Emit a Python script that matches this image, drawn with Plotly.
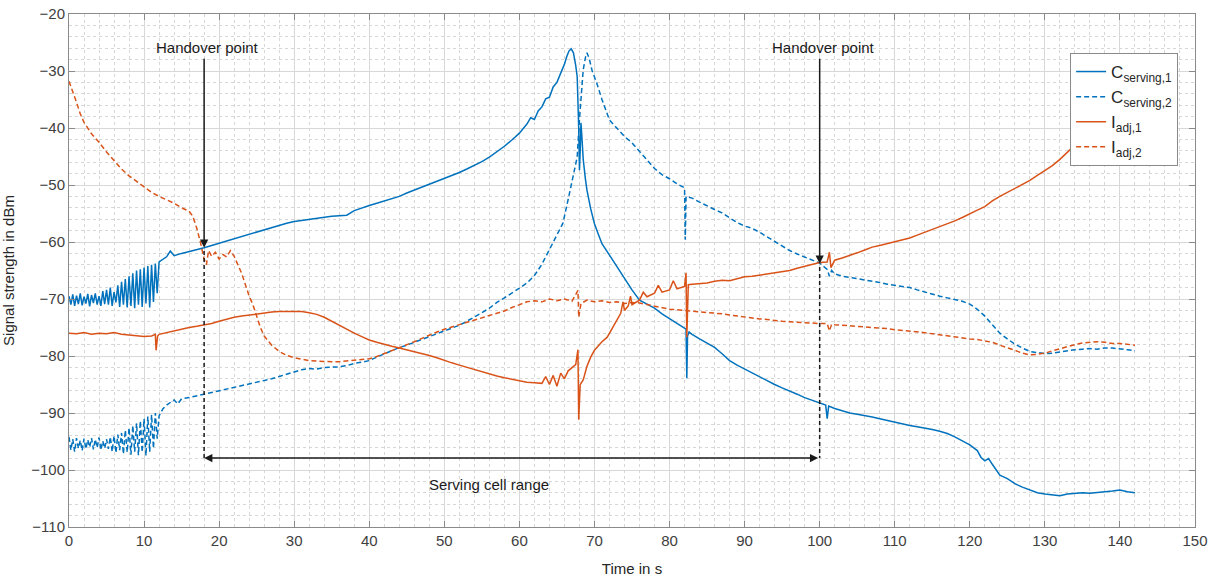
import plotly.graph_objects as go

# ---------------- data ----------------
# C_serving,1 (solid blue)
t_c1 = [0, 0.25, 0.5, 0.75, 1.0, 1.25, 1.5, 1.75, 2.0, 2.25, 2.5, 2.75, 3.0, 3.25, 3.5, 3.75,
        4.0, 4.25, 4.5, 4.75, 5.0, 5.25, 5.5, 5.75, 6.0, 6.25, 6.5, 6.75, 7.0, 7.25, 7.5, 7.75,
        8.0, 8.25, 8.5, 8.75, 9.0, 9.25, 9.5, 9.75, 10.0, 10.25, 10.5, 10.75, 11.0, 11.25, 11.5, 11.75,
        12.0, 12.5, 13, 13.5, 14, 15, 16, 17, 18, 19, 20, 21, 22, 23, 24, 25, 26, 27, 28, 29, 30,
        31, 32, 33, 34, 35, 36, 37, 38, 39, 40, 41, 42, 43, 44, 45, 46, 47, 48, 49, 50,
        51, 52, 53, 54, 55, 56, 57, 58, 59, 60, 61, 61.5, 62, 62.5, 63, 63.5, 64, 64.5, 65, 65.5,
        66, 66.3, 66.6, 66.9, 67.2, 67.5, 67.7, 67.9, 68.0, 68.1, 68.2, 68.3, 68.5, 68.8, 69, 69.5,
        70, 70.5, 71, 72, 73, 74, 75, 76, 77, 78, 79, 80, 81, 82, 82.2, 82.3, 82.4, 82.6, 83,
        84, 85, 86, 87, 88, 89, 90, 91, 92, 93, 94, 95, 96, 97, 98, 99, 100, 100.8, 101, 101.2,
        102, 103, 104, 105, 106, 107, 108, 109, 110, 111, 112, 113, 114, 115, 116, 117, 118, 119,
        120, 121, 121.5, 122, 122.5, 123, 124, 125, 126, 127, 128, 129, 130, 131, 132, 133, 134,
        135, 136, 137, 138, 139, 140, 141, 142]
v_c1 = [-69.5, -71.0, -69.2, -71.2, -69.4, -70.9, -69.0, -71.1, -69.6, -70.8, -69.1, -71.3, -69.3, -70.7, -69.0, -71.0,
        -69.5, -71.2, -68.6, -70.9, -68.4, -71.0, -68.0, -71.2, -68.8, -70.6, -67.6, -71.4, -67.0, -71.0, -66.5, -71.5,
        -66.0, -71.2, -65.5, -71.6, -65.0, -71.0, -64.8, -71.4, -64.5, -70.8, -64.2, -71.5, -64.0, -70.5, -63.8, -69.0,
        -63.5, -63.0, -62.6, -61.6, -62.4, -62.0, -61.7, -61.3, -61.0, -60.6, -60.2, -59.8, -59.5, -59.0, -58.6, -58.2,
        -57.8, -57.4, -57.0, -56.7, -56.4, -56.2, -56.0, -55.8, -55.7, -55.5, -55.4, -55.3, -54.5, -54.0, -53.6, -53.2,
        -52.8, -52.5, -52.0, -51.4, -50.9, -50.4, -49.9, -49.4, -48.9, -48.4, -47.8, -47.2, -46.6, -45.9, -45.1, -44.2,
        -43.2, -42.1, -40.9, -39.3, -38.2, -38.5, -37.0, -36.3, -34.9, -34.6, -32.8, -32.0, -30.4, -28.8, -27.5, -26.5,
        -26.1, -26.8, -29.0, -31.0, -40.0, -47.4, -44.0, -39.1, -41.0, -45.5, -49.0, -50.9, -54.2, -56.8, -58.6, -60.3,
        -62.3, -64.4, -66.5, -68.4, -70.2, -70.9, -71.6, -72.6, -73.4, -74.3, -75.0, -75.3, -83.9, -76.5, -75.8, -76.2,
        -77.0, -77.7, -78.5, -79.6, -80.8, -81.6, -82.3, -83.0, -83.6, -84.3, -85.0, -85.6, -86.1, -86.7, -87.3, -87.8,
        -88.3, -88.6, -91.0, -88.8, -89.2, -89.6, -90.0, -90.2, -90.4, -90.7, -91.0, -91.3, -91.7, -91.9, -92.2, -92.4,
        -92.6, -92.9, -93.2, -93.6, -94.2, -94.9, -95.6, -96.6, -97.8, -98.4, -98.0, -99.0, -100.9, -101.5, -102.4, -103.0,
        -103.5, -104.0, -104.2, -104.4, -104.5, -104.2, -104.1, -104.0, -104.1, -103.9, -103.8, -103.7, -103.5, -103.8, -104.0]

# C_serving,2 (dashed blue)
t_c2 = [0, 0.25, 0.5, 0.75, 1.0, 1.25, 1.5, 1.75, 2.0, 2.25, 2.5, 2.75, 3.0, 3.25, 3.5, 3.75,
        4.0, 4.25, 4.5, 4.75, 5.0, 5.25, 5.5, 5.75, 6.0, 6.25, 6.5, 6.75, 7.0, 7.25, 7.5, 7.75,
        8.0, 8.25, 8.5, 8.75, 9.0, 9.25, 9.5, 9.75, 10.0, 10.25, 10.5, 10.75, 11.0, 11.25, 11.5, 11.75,
        12.0, 12.5, 13, 13.5, 14, 14.5, 15, 16, 17, 18, 19, 20, 21, 22, 23, 24, 25, 26, 27, 28, 29,
        30, 31, 32, 33, 34, 35, 36, 37, 38, 39, 40, 41, 42, 43, 44, 45, 46, 47, 48, 49, 50,
        51, 52, 53, 54, 55, 56, 57, 58, 59, 60, 61, 62, 63, 64, 65, 65.8, 66.5, 67, 67.5, 67.7,
        68, 68.3, 68.5, 68.8, 69, 69.3, 69.7, 70.3, 71, 72, 73, 74, 75, 76, 77, 78, 79, 80, 81,
        82, 82.1, 82.2, 83, 84, 85, 86, 87, 88, 89, 90, 91, 92, 93, 94, 95, 96, 97, 98, 99, 100,
        101, 101.3, 101.6, 102, 103, 104, 105, 106, 107, 108, 109, 110, 111, 112, 113, 114, 115,
        116, 117, 118, 119, 120, 121, 122, 123, 124, 125, 126, 127, 128, 129, 130, 131, 132, 133,
        134, 135, 136, 137, 138, 139, 140, 141, 142]
v_c2 = [-94.2, -96.5, -94.6, -96.8, -94.4, -96.2, -94.8, -96.6, -94.5, -96.3, -94.7, -96.0, -94.4, -96.4, -94.6, -96.1,
        -94.3, -96.5, -94.9, -96.2, -94.6, -96.3, -94.2, -96.8, -94.0, -97.0, -93.8, -96.5, -93.5, -97.2, -93.0, -96.9,
        -92.6, -97.3, -92.2, -96.8, -91.8, -97.4, -91.4, -96.9, -91.0, -97.5, -90.6, -96.8, -90.3, -96.2, -90.0, -94.5,
        -90.5, -89.3, -88.6, -88.2, -87.7, -88.4, -87.5, -87.3, -87.0, -86.8, -86.5, -86.1, -85.8, -85.5, -85.2, -84.9,
        -84.6, -84.3, -84.0, -83.6, -83.2, -82.8, -82.4, -82.2, -82.3, -82.0, -82.0, -81.9, -81.7, -81.3, -81.1, -80.8,
        -80.2, -79.6, -79.0, -78.5, -78.1, -77.6, -77.1, -76.7, -76.1, -75.6, -75.1, -74.6, -73.9, -73.2, -72.4, -71.6,
        -70.6, -69.8, -69.0, -68.1, -67.2, -65.9, -63.9, -61.4, -58.7, -56.7, -52.5, -49.5, -46.0, -45.1, -38.5, -32.5,
        -29.8, -27.6, -26.8, -27.8, -30.0, -32.1, -35.0, -38.6, -40.0, -41.5, -42.6, -44.2, -45.6, -47.1, -48.2, -48.9,
        -49.8, -50.5, -59.6, -52.0, -52.3, -53.0, -53.7, -54.3, -54.9, -55.7, -56.6, -57.2, -57.6, -58.3, -59.1, -60.0,
        -60.8, -61.5, -62.1, -62.6, -63.2, -63.7, -64.8, -66.0, -65.0, -65.6, -66.0, -66.2, -66.4, -66.6, -66.8, -67.1,
        -67.4, -67.6, -67.8, -68.0, -68.4, -68.8, -69.2, -69.5, -69.8, -70.1, -70.4, -70.9, -71.8, -73.0, -74.6, -76.0,
        -77.0, -77.9, -78.6, -79.2, -79.4, -79.6, -79.5, -79.3, -79.0, -78.9, -78.8, -78.7, -78.8, -78.6, -78.6, -78.7,
        -78.9, -79.1]

# I_adj,1 (solid orange)
t_i1 = [0, 1, 2, 3, 4, 5, 6, 7, 8, 9, 10, 11, 11.5, 11.6, 11.8, 12, 13, 14, 15, 16, 17, 18, 19, 20,
        21, 22, 23, 24, 25, 26, 27, 28, 29, 30, 31, 32, 33, 34, 35, 36, 37, 38, 39, 40, 41, 42, 43,
        44, 45, 46, 47, 48, 49, 50, 51, 52, 53, 54, 55, 56, 57, 58, 59, 60, 61, 62, 63, 63.5, 64,
        64.5, 65, 65.5, 66, 66.5, 67, 67.5, 67.8, 67.9, 68.1, 68.5, 69, 69.5, 70, 71, 71.7, 72.5, 73,
        73.5, 73.8, 74, 74.5, 74.8, 75, 76, 76.5, 77, 78, 78.5, 79, 80, 80.5, 81, 82, 82.2, 82.3,
        82.5, 83, 84, 85, 86, 87, 88, 89, 90, 91, 92, 93, 94, 95, 96, 97, 98, 99, 100, 101, 101.3,
        101.5, 102, 103, 104, 105, 106, 107, 108, 109, 110, 111, 112, 113, 114, 115, 116, 117, 118,
        119, 120, 121, 122, 123, 124, 125, 126, 127, 128, 129, 130, 131, 132, 133, 134, 135, 136,
        137, 138, 139, 140, 141, 142]
v_i1 = [-76.0, -76.1, -75.9, -76.2, -76.0, -76.1, -75.9, -76.2, -76.3, -76.4, -76.6, -76.5, -76.2, -79.0, -76.5,
        -76.2, -75.9, -75.5, -75.3, -75.0, -74.8, -74.6, -74.3, -73.9, -73.5, -73.2, -73.0, -72.8, -72.6, -72.4,
        -72.3, -72.2, -72.2, -72.2, -72.2, -72.4, -72.7, -73.2, -73.9, -74.7, -75.4, -76.0, -76.6, -77.2, -77.6,
        -78.0, -78.3, -78.6, -78.9, -79.2, -79.5, -79.9, -80.3, -80.8, -81.2, -81.6, -82.0, -82.4, -82.8, -83.1,
        -83.5, -83.8, -84.1, -84.4, -84.6, -84.7, -84.8, -83.6, -85.0, -83.4, -85.3, -83.0, -84.0, -82.6, -82.0,
        -81.5, -78.9, -91.2, -85.0, -84.2, -81.8, -80.2, -79.0, -77.5, -76.7, -74.8, -73.7, -72.5, -70.5, -72.0,
        -71.2, -69.5, -71.0, -70.2, -68.8, -69.6, -69.0, -67.6, -68.8, -68.4, -66.8, -68.2, -67.8, -65.4, -76.7,
        -67.5, -67.4, -67.3, -67.2, -66.9, -66.7, -66.8, -66.4, -66.1, -66.0, -65.8, -65.6, -65.5, -65.3, -65.0,
        -64.6, -64.3, -63.9, -63.6, -63.5, -61.8, -64.5, -63.2, -62.8, -62.4, -61.9, -61.4, -60.9, -60.6, -60.3,
        -59.9, -59.7, -59.3, -58.8, -58.3, -57.9, -57.4, -56.8, -56.3, -55.7, -55.0, -54.4, -53.8, -52.8, -52.0,
        -51.3, -50.5, -49.9, -49.2, -48.3, -47.4, -46.6, -45.5, -44.3, -43.0, -41.6, -40.3, -39.0, -37.6, -36.3,
        -35.0, -33.8, -32.6]

# I_adj,2 (dashed orange)
t_i2 = [0, 0.5, 1, 1.5, 2, 3, 4, 5, 6, 7, 8, 9, 10, 11, 12, 13, 14, 15, 16, 16.5, 17, 17.5, 18, 18.3,
        18.6, 19, 19.5, 20, 20.5, 21, 21.5, 22, 22.5, 23, 23.5, 24, 24.5, 25, 25.5, 26, 27, 28, 29, 30,
        31, 32, 33, 34, 35, 36, 37, 38, 39, 40, 41, 42, 43, 44, 45, 46, 47, 48, 49, 50, 51, 52, 53,
        54, 55, 56, 57, 58, 59, 60, 61, 62, 63, 64, 65, 66, 67, 67.8, 67.9, 68.2, 69, 70, 71, 72, 73,
        74, 75, 76, 77, 78, 79, 80, 81, 82, 83, 84, 85, 86, 87, 88, 89, 90, 91, 92, 93, 94, 95, 96,
        97, 98, 99, 100, 101, 101.3, 101.6, 102, 103, 104, 105, 106, 107, 108, 109, 110, 111, 112,
        113, 114, 115, 116, 117, 118, 119, 120, 121, 122, 123, 124, 125, 126, 127, 128, 129, 130,
        131, 132, 133, 134, 135, 136, 137, 138, 139, 140, 141, 142]
v_i2 = [-31.8, -33.5, -35.5, -37.5, -39.0, -41.0, -42.5, -44.2, -45.8, -47.2, -48.4, -49.4, -50.4, -51.3, -52.0,
        -52.6, -53.2, -54.0, -54.6, -55.5, -57.5, -60.0, -63.0, -64.0, -61.5, -62.5, -61.8, -63.0, -62.2, -62.6,
        -61.5, -62.5, -64.0, -65.5, -67.5, -69.5, -71.0, -73.0, -75.0, -76.5, -78.1, -79.2, -79.9, -80.3, -80.6,
        -80.8, -80.9, -81.0, -81.0, -81.0, -80.9, -80.8, -80.7, -80.5, -80.1, -79.6, -79.1, -78.6, -78.0, -77.5,
        -76.9, -76.3, -75.8, -75.3, -74.9, -74.5, -74.2, -73.8, -73.4, -73.0, -72.6, -72.1, -71.5, -71.0, -70.5,
        -70.3, -70.5, -70.0, -70.3, -70.0, -70.4, -68.5, -73.2, -70.8, -70.2, -70.5, -70.3, -70.6, -70.5, -70.8,
        -70.6, -70.7, -71.0, -71.2, -71.5, -71.8, -71.9, -72.0, -72.2, -72.3, -72.3, -72.5, -72.6, -72.8, -73.0,
        -73.2, -73.3, -73.5, -73.6, -73.8, -73.9, -74.0, -74.1, -74.1, -74.2, -74.3, -74.3, -75.6, -74.4, -74.5,
        -74.6, -74.7, -74.8, -74.9, -74.9, -75.1, -75.2, -75.4, -75.5, -75.6, -75.7, -75.9, -76.1, -76.3, -76.5,
        -76.6, -76.8, -77.0, -77.1, -77.3, -77.6, -78.1, -78.5, -79.0, -79.5, -79.8, -79.7, -79.5, -79.1, -78.7,
        -78.3, -78.0, -77.7, -77.6, -77.5, -77.6, -77.8, -77.8, -78.0, -78.1]

series_names = ["C<sub>serving,1</sub>", "C<sub>serving,2</sub>", "I<sub>adj,1</sub>", "I<sub>adj,2</sub>"]
x_ticks = list(range(0, 151, 10))
y_ticks = list(range(-110, -19, 10))
handover_times = [18, 100]
handover_levels = [-61.0, -63.8]
range_level = -97.9

# ---------------- figure ----------------
BLUE = "#0072BD"
ORANGE = "#D95319"
FONT = "Liberation Sans, Arial, Helvetica, sans-serif"

fig = go.Figure()
fig.add_trace(go.Scatter(x=t_c1, y=v_c1, mode="lines", name=series_names[0],
                         line=dict(color=BLUE, width=1.5)))
fig.add_trace(go.Scatter(x=t_c2, y=v_c2, mode="lines", name=series_names[1],
                         line=dict(color=BLUE, width=1.5, dash="5px,3px")))
fig.add_trace(go.Scatter(x=t_i1, y=v_i1, mode="lines", name=series_names[2],
                         line=dict(color=ORANGE, width=1.5)))
fig.add_trace(go.Scatter(x=t_i2, y=v_i2, mode="lines", name=series_names[3],
                         line=dict(color=ORANGE, width=1.5, dash="5px,3px")))

# handover arrows, labels and dashed drop lines
for ht, hl in zip(handover_times, handover_levels):
    fig.add_annotation(x=ht, y=hl, ax=ht, ay=-27.6, xref="x", yref="y", axref="x", ayref="y",
                       showarrow=True, arrowhead=2, arrowsize=1.1, arrowwidth=1.5,
                       arrowcolor="#1a1a1a", text="")
    fig.add_annotation(x=ht + 0.5, y=-25.9, xref="x", yref="y", text="Handover point",
                       showarrow=False, font=dict(family=FONT, size=15, color="#1a1a1a"))
    fig.add_shape(type="line", x0=ht, x1=ht, y0=hl - 0.6, y1=range_level, xref="x", yref="y",
                  line=dict(color="#1a1a1a", width=1.5, dash="4px,3px"))

fig.add_annotation(x=handover_times[0], y=range_level, ax=handover_times[1], ay=range_level,
                   xref="x", yref="y", axref="x", ayref="y", showarrow=True,
                   arrowhead=2, arrowside="end+start", arrowsize=1.1, arrowwidth=1.5,
                   arrowcolor="#1a1a1a", text="")
fig.add_annotation(x=56, y=-102.6, xref="x", yref="y", text="Serving cell range",
                   showarrow=False, font=dict(family=FONT, size=15, color="#1a1a1a"))

axis_common = dict(
    showline=True, linecolor="#8a8a8a", linewidth=1, mirror="allticks",
    ticks="inside", ticklen=6, tickcolor="#8a8a8a",
    showgrid=True, gridcolor="#d8d8d8", gridwidth=1,
    zeroline=False, automargin=False,
    tickfont=dict(family=FONT, size=15, color="#404040"),
    minor=dict(dtick=2, showgrid=True, gridcolor="#d6d6d6", griddash="dot", gridwidth=1),
)

fig.update_xaxes(range=[0, 150], tickvals=x_ticks, **axis_common,
                 title=dict(text="Time in s", font=dict(family=FONT, size=15, color="#262626")))
fig.update_yaxes(range=[-110, -20], tickvals=y_ticks, **axis_common,
                 title=dict(text="Signal strength in dBm", font=dict(family=FONT, size=15, color="#262626")))

fig.update_layout(
    width=1216, height=579, autosize=False,
    margin=dict(l=69, r=21, t=14, b=52, autoexpand=False),
    plot_bgcolor="white", paper_bgcolor="white",
    font=dict(family=FONT, size=15, color="#262626"),
    legend=dict(x=0.985, y=0.924, xanchor="right", yanchor="top",
                bgcolor="white", bordercolor="#8a8a8a", borderwidth=1,
                font=dict(family=FONT, size=17, color="#262626"),
                itemwidth=30, tracegroupgap=0),
    showlegend=True,
)

fig.write_html("out.html", config={"displayModeBar": False},
               post_script="document.body.style.margin='0';document.body.style.overflow='hidden';")
